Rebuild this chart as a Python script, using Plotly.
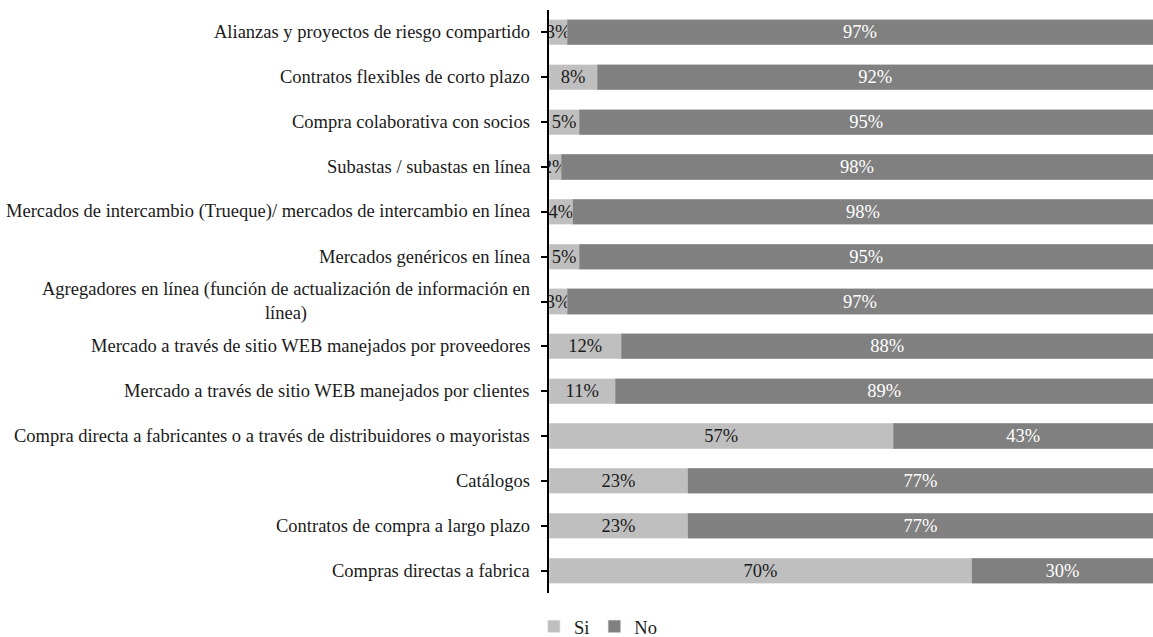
import plotly.graph_objects as go

# Métodos de compra (de arriba hacia abajo)
categorias = [
    "Alianzas y proyectos de riesgo compartido",
    "Contratos flexibles de corto plazo",
    "Compra colaborativa con socios",
    "Subastas / subastas en línea",
    "Mercados de intercambio (Trueque)/ mercados de intercambio en línea",
    "Mercados genéricos en línea",
    "Agregadores en línea (función de actualización de información en<br>línea)",
    "Mercado a través de sitio WEB manejados por proveedores",
    "Mercado a través de sitio WEB manejados por clientes",
    "Compra directa a fabricantes o a través de distribuidores o mayoristas",
    "Catálogos",
    "Contratos de compra a largo plazo",
    "Compras directas a fabrica",
]
si = [3, 8, 5, 2, 4, 5, 3, 12, 11, 57, 23, 23, 70]
no = [97, 92, 95, 98, 98, 95, 97, 88, 89, 43, 77, 77, 30]

FUENTE = "Liberation Serif"
TAM = 18.5
ids = list(range(len(categorias)))

fig = go.Figure()
fig.add_trace(go.Bar(
    name="Si", y=ids, x=si, orientation="h",
    marker=dict(color="#BFBFBF", line=dict(color="#D9D9D9", width=0.6)),
    text=[f"{v}%" for v in si], textposition="inside", insidetextanchor="middle",
    textangle=0, constraintext="none",
    textfont=dict(family=FUENTE, size=TAM, color="#1a1a1a"),
    hoverinfo="skip",
))
fig.add_trace(go.Bar(
    name="No", y=ids, x=no, orientation="h",
    marker=dict(color="#808080", line=dict(color="#A6A6A6", width=0.6)),
    text=[f"{v}%" for v in no], textposition="inside", insidetextanchor="middle",
    textangle=0, constraintext="none",
    textfont=dict(family=FUENTE, size=TAM, color="white"),
    hoverinfo="skip",
))

# Etiquetas de categoría alineadas a la derecha junto al eje
for i, c in enumerate(categorias):
    fig.add_annotation(
        x=0, xref="paper", y=i, yref="y", text=c, showarrow=False,
        xanchor="right", yanchor="middle", align="center", xshift=-17,
        font=dict(family=FUENTE, size=TAM, color="#1a1a1a"),
    )

fig.update_layout(
    barmode="stack", barnorm="percent", bargap=0.44,
    width=1153, height=637,
    margin=dict(l=549, r=0, t=10, b=44),
    paper_bgcolor="white", plot_bgcolor="white",
    showlegend=True,
    legend=dict(
        orientation="h", xref="container", yref="container",
        x=0.519, y=0.016, xanchor="center", yanchor="middle",
        font=dict(family=FUENTE, size=TAM, color="#1a1a1a"),
        itemwidth=30, traceorder="normal",
    ),
    xaxis=dict(range=[0, 100], visible=False, fixedrange=True),
    yaxis=dict(
        autorange="reversed", showticklabels=False,
        tickmode="array", tickvals=ids, tickson="boundaries",
        ticks="outside", ticklen=6, tickwidth=1.5, tickcolor="black",
        showline=True, linecolor="black", linewidth=1.5,
        showgrid=False, zeroline=False,
    ),
)

fig.write_html("out.html")
